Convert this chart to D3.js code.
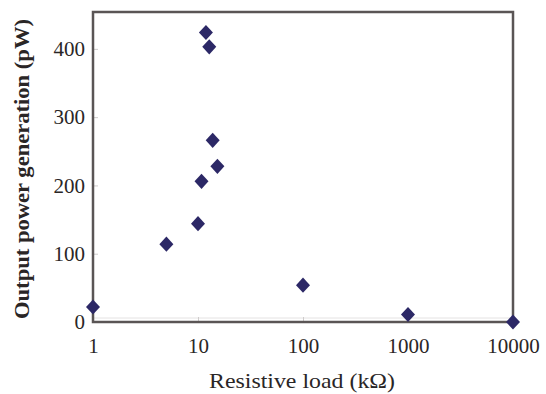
<!DOCTYPE html>
<html><head><meta charset="utf-8">
<script src="https://cdn.jsdelivr.net/npm/d3@7"></script>
<style>body{margin:0;background:#fff}svg{display:block}</style>
</head><body>
<svg id="c" width="546" height="394"></svg>
<script>
const loads = [1, 5, 10, 10.8, 11.9, 12.8, 13.8, 15.3, 100, 1000, 10000];
const power = [22, 114, 144, 206, 424, 403, 266, 228, 54, 11, 0];
const xTicks = [1, 10, 100, 1000, 10000];
const yTicks = [0, 100, 200, 300, 400];
const xTitle = "Resistive load (kΩ)";
const yTitle = "Output power generation (pW)";

const svg = d3.select("#c");
const L = 93, R = 513, T = 12, B = 322;
const x = d3.scaleLog().domain([1, 10000]).range([L, R]);
const y = d3.scaleLinear().domain([0, 454]).range([B, T]);
const font = "'Liberation Serif','Times New Roman',serif";
const axisCol = "#5a5555";

// faint inner line near bottom
svg.append("line").attr("x1", L).attr("x2", R).attr("y1", B - 4).attr("y2", B - 4)
  .attr("stroke", "#e4e2e2").attr("stroke-width", 1);

// axes
const xAxis = d3.axisBottom(x).tickValues(xTicks).tickFormat(d3.format("d")).tickSize(-5).tickPadding(16);
const gx = svg.append("g").attr("transform", `translate(0,${B})`).call(xAxis);
const yAxis = d3.axisLeft(y).tickValues(yTicks).tickSize(-5).tickPadding(8);
const gy = svg.append("g").attr("transform", `translate(${L},0)`).call(yAxis);
[gx, gy].forEach(g => {
  g.select(".domain").remove();
  g.selectAll(".tick line").attr("stroke", "#cfcccc").attr("stroke-width", 1);
  g.selectAll(".tick text").attr("font-family", font).attr("font-size", 21).attr("fill", "#2a2626");
});

// frame
svg.append("rect").attr("x", L).attr("y", T).attr("width", R - L).attr("height", B - T)
  .attr("fill", "none").attr("stroke", axisCol).attr("stroke-width", 2.5);

// points (rotated squares -> diamonds)
const sym = d3.symbol().type(d3.symbolSquare).size(98);
svg.append("g").selectAll("path").data(loads.map((d, i) => [d, power[i]])).join("path")
  .attr("d", sym)
  .attr("transform", d => `translate(${x(d[0])},${y(d[1])}) scale(1,1.08) rotate(45)`)
  .attr("fill", "#2c2866");

// titles
svg.append("text").attr("x", (L + R) / 2 - 1).attr("y", 388).attr("text-anchor", "middle")
  .attr("font-family", font).attr("font-size", 22).attr("fill", "#2a2626")
  .attr("textLength", 186).attr("lengthAdjust", "spacingAndGlyphs").text(xTitle);
svg.append("text").attr("transform", `translate(29,${(T + B) / 2 + 2}) rotate(-90)`)
  .attr("text-anchor", "middle").attr("font-family", font).attr("font-size", 22)
  .attr("font-weight", "bold").attr("fill", "#2a2626")
  .attr("textLength", 300).attr("lengthAdjust", "spacingAndGlyphs").text(yTitle);
</script>
</body></html>
